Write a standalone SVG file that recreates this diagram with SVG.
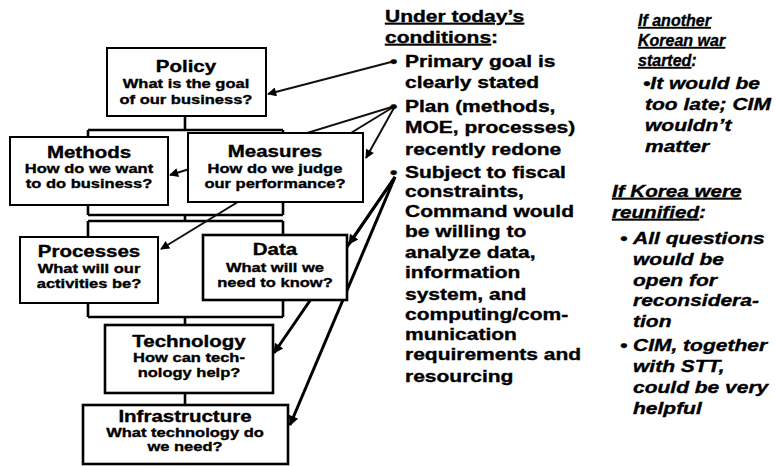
<svg xmlns="http://www.w3.org/2000/svg" width="777" height="466" viewBox="0 0 777 466">
<style>
text{font-family:"Liberation Sans",Arial,Helvetica,sans-serif;font-weight:bold;fill:#000;stroke:#000;stroke-width:0.35px}
.t{font-size:16.4px;text-anchor:middle}
.s{font-size:13.2px;text-anchor:middle}
.b{font-size:16.8px}
.i{font-size:16.8px;font-style:italic}
.h{font-size:16px;font-style:italic}
.h2{font-size:16.5px;font-style:italic}
.u{text-decoration:underline}
.box{fill:#fff;stroke:#000;stroke-width:2}
.box2{fill:#fff;stroke:#000;stroke-width:2.6}
.tree{fill:none;stroke:#000;stroke-width:2.6}
.thin{stroke:#111;stroke-width:2;fill:none}
.thick{stroke:#000;stroke-width:3;fill:none}
</style>
<defs>
<marker id="ah" viewBox="0 0 10 10" refX="9" refY="5" markerUnits="userSpaceOnUse" markerWidth="12" markerHeight="9" orient="auto"><path d="M0,0 L10,5 L0,10 z" fill="#000"/></marker>
<marker id="ah2" viewBox="0 0 10 10" refX="9" refY="5" markerUnits="userSpaceOnUse" markerWidth="15" markerHeight="10" orient="auto"><path d="M0,0 L10,5 L0,10 z" fill="#000"/></marker>
</defs>
<rect width="777" height="466" fill="#fff"/>

<g id="connectors">
<path class="tree" d="M185,116 V130 M88,130 H283 M88,130 V137 M283,130 V133"/>
<path class="tree" d="M88,205 V215 M283,202 V215 M88,215 H283 M185,215 V221 M88,221 H283 M88,221 V237 M283,221 V235"/>
<path class="tree" d="M88,303 V317 M283,300 V317 M88,317 H283 M185,317 V325"/>
<path class="tree" d="M185,393 V405"/>
<line class="thin" x1="395" y1="61" x2="268" y2="94" marker-end="url(#ah)"/>
<line class="thin" x1="395" y1="106" x2="170" y2="175" marker-end="url(#ah)"/>
<line class="thin" x1="395" y1="106" x2="161" y2="249" marker-end="url(#ah)"/>
<line class="thin" x1="395" y1="106" x2="366" y2="158" marker-end="url(#ah)"/>
<line class="thick" x1="395" y1="177" x2="349" y2="244" marker-end="url(#ah2)"/>
<line class="thick" x1="395" y1="177" x2="274" y2="353" marker-end="url(#ah2)"/>
<line class="thick" x1="395" y1="177" x2="290" y2="425" marker-end="url(#ah2)"/>
</g>

<g id="policy">
<rect class="box" x="107" y="48" width="159" height="68"/>
<g transform="matrix(1.25,0,0,1,-46.5,0)">
<text class="t" x="186" y="72">Policy</text>
<text class="s" x="186" y="88">What is the goal</text>
<text class="s" x="186" y="104">of our business?</text>
</g>
</g>

<g id="methods">
<rect class="box" x="10" y="137" width="158" height="68"/>
<g transform="matrix(1.25,0,0,1,-22.25,0)">
<text class="t" x="89" y="158">Methods</text>
<text class="s" x="89" y="173">How do we want</text>
<text class="s" x="89" y="188">to do business?</text>
</g>
</g>

<g id="measures">
<rect class="box" x="188" y="133" width="175" height="69"/>
<g transform="matrix(1.25,0,0,1,-68.75,0)">
<text class="t" x="275" y="157">Measures</text>
<text class="s" x="275" y="173">How do we judge</text>
<text class="s" x="275" y="188">our performance?</text>
</g>
</g>

<g id="processes">
<rect class="box" x="20" y="237" width="138" height="66"/>
<g transform="matrix(1.25,0,0,1,-22.25,0)">
<text class="t" x="89" y="257">Processes</text>
<text class="s" x="89" y="273">What will our</text>
<text class="s" x="89" y="288">activities be?</text>
</g>
</g>

<g id="data">
<rect class="box2" x="203" y="235" width="144" height="65"/>
<g transform="matrix(1.25,0,0,1,-68.75,0)">
<text class="t" x="275" y="255">Data</text>
<text class="s" x="275" y="272">What will we</text>
<text class="s" x="275" y="287">need to know?</text>
</g>
</g>

<g id="technology">
<rect class="box2" x="105" y="325" width="168" height="68"/>
<g transform="matrix(1.25,0,0,1,-47.25,0)">
<text class="t" x="189" y="347">Technology</text>
<text class="s" x="189" y="362">How can tech-</text>
<text class="s" x="189" y="377">nology help?</text>
</g>
</g>

<g id="infrastructure">
<rect class="box2" x="83" y="405" width="205" height="59"/>
<g transform="matrix(1.25,0,0,1,-46.25,0)">
<text class="t" x="185" y="422">Infrastructure</text>
<text class="s" x="185" y="437">What technology do</text>
<text class="s" x="185" y="451">we need?</text>
</g>
</g>

<g id="today" transform="scale(1.25,1)">
<text class="b" x="308" y="22"><tspan class="u">Under today’s </tspan></text>
<text class="b" x="308" y="43"><tspan class="u">conditions</tspan>:</text>
<text class="b" x="312" y="67">•</text>
<text class="b" x="324" y="67">Primary goal is</text>
<text class="b" x="324" y="88">clearly stated</text>
<text class="b" x="312" y="112">•</text>
<text class="b" x="324" y="112">Plan (methods,</text>
<text class="b" x="324" y="133">MOE, processes)</text>
<text class="b" x="324" y="155">recently redone</text>
<text class="b" x="312" y="178">•</text>
<text class="b" x="324" y="178">Subject to fiscal</text>
<text class="b" x="324" y="197">constraints,</text>
<text class="b" x="324" y="217">Command would</text>
<text class="b" x="324" y="237">be willing to</text>
<text class="b" x="324" y="258">analyze data,</text>
<text class="b" x="324" y="278">information</text>
<text class="b" x="324" y="300">system, and</text>
<text class="b" x="324" y="320">computing/com-</text>
<text class="b" x="324" y="340">munication</text>
<text class="b" x="324" y="360">requirements and</text>
<text class="b" x="324" y="382">resourcing</text>
</g>

<g id="war">
<text class="h" x="638" y="26"><tspan class="u">If another</tspan></text>
<text class="h" x="638" y="46"><tspan class="u">Korean war</tspan></text>
<text class="h" x="638" y="66"><tspan class="u">started</tspan>:</text>
<g transform="scale(1.25,1)">
<text class="i" x="514.4" y="89">•It would be</text>
<text class="i" x="516" y="110">too late; CIM</text>
<text class="i" x="516" y="131">wouldn’t</text>
<text class="i" x="516" y="152">matter</text>
</g>
</g>

<g id="reunified" transform="scale(1.25,1)">
<text class="h2" x="489.6" y="197"><tspan class="u">If Korea were</tspan></text>
<text class="h2" x="489.6" y="218"><tspan class="u">reunified</tspan>:</text>
<text class="i" x="496" y="244">•</text>
<text class="i" x="506.4" y="244">All questions</text>
<text class="i" x="506.4" y="265">would be</text>
<text class="i" x="506.4" y="286">open for</text>
<text class="i" x="506.4" y="306">reconsidera-</text>
<text class="i" x="506.4" y="327">tion</text>
<text class="i" x="496" y="351">•</text>
<text class="i" x="506.4" y="351">CIM, together</text>
<text class="i" x="506.4" y="372">with STT,</text>
<text class="i" x="506.4" y="393">could be very</text>
<text class="i" x="506.4" y="414">helpful</text>
</g>
</svg>
